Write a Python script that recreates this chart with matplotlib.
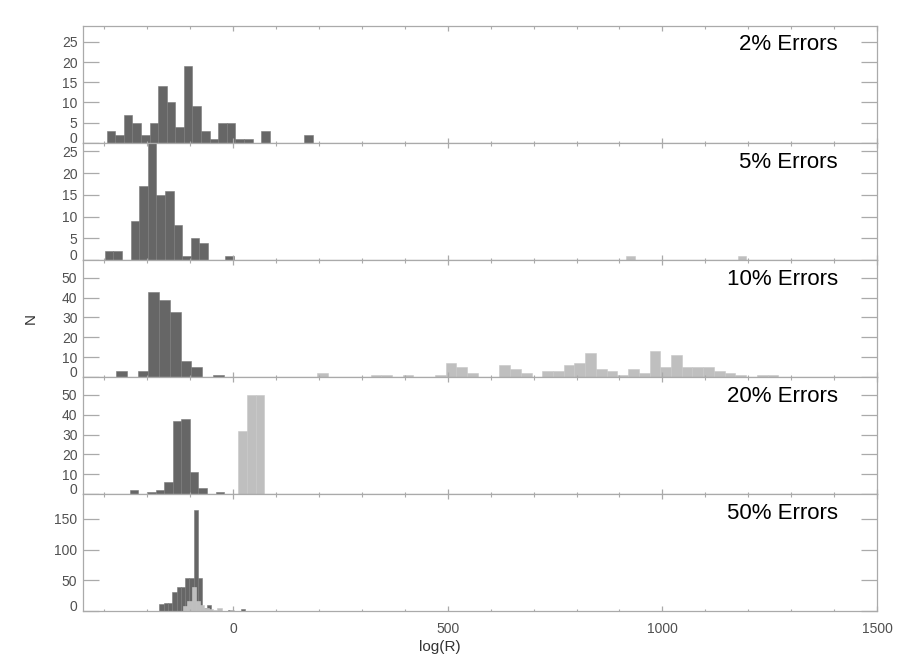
import numpy as np
import matplotlib
matplotlib.use("Agg")
import matplotlib.pyplot as plt
from matplotlib.ticker import MultipleLocator
from matplotlib.transforms import ScaledTranslation

plt.rcParams['font.family'] = ['Liberation Sans', 'DejaVu Sans']

# histogram bins: bin centres (log R) and counts N
LABELS = ["2% Errors", "5% Errors", "10% Errors", "20% Errors", "50% Errors"]

dark_x_2 = [-285, -265, -245, -225, -205, -185, -165, -145, -125, -105,
            -85, -65, -45, -25, -5, 15, 35, 75, 175]
dark_n_2 = [3, 2, 7, 5, 2, 5, 14, 10, 4, 19, 9, 3, 1, 5, 5, 1, 1, 3, 2]
light_x_2 = []
light_n_2 = []

dark_x_5 = [-289, -269, -229, -209, -189, -169, -149, -129, -109, -89, -69, -9]
dark_n_5 = [2, 2, 9, 17, 27, 15, 16, 8, 1, 5, 4, 1]
light_x_5 = [925, 1185]
light_n_5 = [1, 1]

dark_x_10 = [-260, -210, -185, -160, -135, -110, -85, -35]
dark_n_10 = [3, 3, 43, 39, 33, 8, 5, 1]
light_x_10 = [207.5, 332.5, 357.5, 407.5, 482.5, 507.5, 532.5, 557.5, 632.5,
              657.5, 682.5, 732.5, 757.5, 782.5, 807.5, 832.5, 857.5, 882.5,
              907.5, 932.5, 957.5, 982.5, 1007.5, 1032.5, 1057.5, 1082.5,
              1107.5, 1132.5, 1157.5, 1182.5, 1232.5, 1257.5]
light_n_10 = [2, 1, 1, 1, 1, 7, 5, 2, 6, 4, 2, 3, 3, 6, 7, 12, 4, 3, 1, 4, 2,
              13, 5, 11, 5, 5, 5, 3, 2, 1, 1, 1]

dark_x_20 = [-231, -191, -171, -151, -131, -111, -91, -71, -31]
dark_n_20 = [2, 1, 2, 6, 37, 38, 11, 3, 1]
light_x_20 = [22, 42, 62]
light_n_20 = [32, 50, 50]

dark_x_50 = [-167, -157, -147, -137, -127, -117, -107, -97, -87, -77, -67,
             -57, -7, 23]
dark_n_50 = [12, 13, 13, 32, 40, 40, 54, 54, 164, 54, 5, 10, 2, 3]
light_x_50 = [-112, -102, -92, -82, -72, -62, -52, -42, -32, -2]
light_n_50 = [9, 17, 40, 17, 10, 6, 3, 2, 5, 2]

DARK_X = [dark_x_2, dark_x_5, dark_x_10, dark_x_20, dark_x_50]
DARK_N = [dark_n_2, dark_n_5, dark_n_10, dark_n_20, dark_n_50]
LIGHT_X = [light_x_2, light_x_5, light_x_10, light_x_20, light_x_50]
LIGHT_N = [light_n_2, light_n_5, light_n_10, light_n_20, light_n_50]

# layout / styling
BIN_W = [20, 20, 25, 20, 10]
Y_TOP = [29, 27, 59, 59, 190]
Y_STEP = [5, 5, 10, 10, 50]
DARK, LIGHT = "#666666", "#bfbfbf"
AXC = "#aaaaaa"
TXT = "#505050"

fig, axes = plt.subplots(5, 1, sharex=True, figsize=(9.02, 6.64), dpi=100)
fig.subplots_adjust(left=0.092, right=0.9723, bottom=0.0794, top=0.9613,
                    hspace=0)

for i, ax in enumerate(axes):
    w = BIN_W[i]
    ax.bar(DARK_X[i], DARK_N[i], width=w, color=DARK, edgecolor="#7a7a7a",
           linewidth=0.4)
    if LIGHT_X[i]:
        ax.bar(LIGHT_X[i], LIGHT_N[i], width=w, color=LIGHT,
               edgecolor="#c8c8c8", linewidth=0.4)
    ax.set_xlim(-350, 1500)
    ax.set_ylim(0, Y_TOP[i])
    ax.yaxis.set_major_locator(MultipleLocator(Y_STEP[i]))
    ax.xaxis.set_major_locator(MultipleLocator(500))
    ax.xaxis.set_minor_locator(MultipleLocator(100))
    for s in ax.spines.values():
        s.set_color(AXC)
        s.set_linewidth(0.9)
    ax.tick_params(axis="y", which="major", direction="in", length=11.5,
                   width=0.9, color=AXC, left=True, right=True,
                   labelsize=10, labelcolor=TXT, pad=4)
    ax.tick_params(axis="x", which="major", direction="in", length=3.5,
                   width=0.9, color=AXC, top=True, bottom=True,
                   labelsize=10, labelcolor=TXT, pad=8)
    ax.tick_params(axis="x", which="minor", direction="in", length=1.8,
                   width=0.8, color=AXC, top=True, bottom=True)
    ax.text(0.951, 0.836, LABELS[i], transform=ax.transAxes, ha="right",
            va="center", fontsize=16, color="black")

fig.text(0.034, 0.521, "N", rotation=90, ha="center", va="center",
         fontsize=11, color="#333333")
fig.text(0.488, 0.026, "log(R)", ha="center", va="center", fontsize=11,
         color="#333333")

# the zero labels sit a little above their tick, as in the original
fig.canvas.draw()
lift = ScaledTranslation(0, 4 / 72, fig.dpi_scale_trans)
for ax in axes:
    for t in ax.yaxis.get_major_ticks():
        if abs(t.get_loc()) < 1e-9:
            t.label1.set_transform(t.label1.get_transform() + lift)

fig.savefig("out.png", dpi=100)
